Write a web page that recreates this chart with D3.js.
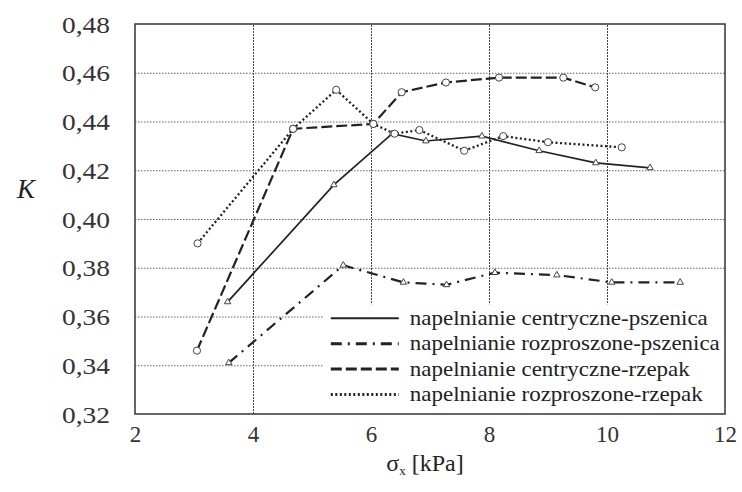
<!DOCTYPE html>
<html><head><meta charset="utf-8">
<script src="https://cdn.jsdelivr.net/npm/d3@7/dist/d3.min.js"></script>
<style>body{margin:0;background:#fff}svg{display:block}svg text{font-family:"Liberation Serif","Times New Roman",Times,serif}</style>
</head><body>
<svg id="c" width="742" height="492"></svg>
<script>
// ---- data ----
const xTicks = [2, 4, 6, 8, 10, 12];
const yTicks = [0.32, 0.34, 0.36, 0.38, 0.40, 0.42, 0.44, 0.46, 0.48];
const seriesNames = ["napelnianie centryczne-pszenica", "napelnianie rozproszone-pszenica", "napelnianie centryczne-rzepak", "napelnianie rozproszone-rzepak"];
const xPszCen = [3.57, 5.37, 6.36, 6.93, 7.88, 8.85, 9.81, 10.73];
const kPszCen = [0.366, 0.414, 0.435, 0.432, 0.434, 0.428, 0.423, 0.421];
const xPszRoz = [3.59, 5.53, 6.55, 7.28, 8.10, 9.15, 10.08, 11.24];
const kPszRoz = [0.341, 0.381, 0.374, 0.373, 0.378, 0.377, 0.374, 0.374];
const xRzeCen = [3.05, 4.68, 6.04, 6.52, 7.27, 8.17, 9.26, 9.80];
const kRzeCen = [0.346, 0.437, 0.439, 0.452, 0.456, 0.458, 0.458, 0.454];
const xRzeRoz = [3.06, 4.68, 5.41, 6.04, 6.40, 6.82, 7.58, 8.24, 9.00, 10.25];
const kRzeRoz = [0.390, 0.437, 0.453, 0.439, 0.435, 0.4365, 0.428, 0.434, 0.4315, 0.4294];

const series = [
  {name: seriesNames[0], xs: xPszCen, ks: kPszCen, dash: null, w: 1.7, marker: "tri"},
  {name: seriesNames[1], xs: xPszRoz, ks: kPszRoz, dash: "11,6,2,6", w: 2.2, marker: "tri"},
  {name: seriesNames[2], xs: xRzeCen, ks: kRzeCen, dash: "11,4", w: 2.2, marker: "circ"},
  {name: seriesNames[3], xs: xRzeRoz, ks: kRzeRoz, dash: "2,2.5", w: 2.3, marker: "circ"}
];

// ---- layout ----
const svg = d3.select("#c");
const m = {l: 135, t: 24, r: 17, b: 78};
const W = 742 - m.l - m.r, H = 492 - m.t - m.b;
const x = d3.scaleLinear().domain([2, 12]).range([0, W]);
const y = d3.scaleLinear().domain([0.32, 0.48]).range([H, 0]);
const g = svg.append("g").attr("transform", `translate(${m.l},${m.t})`);
const ink = "#222";

// grid
const gx = g.append("g").attr("transform", `translate(0,${H})`)
  .call(d3.axisBottom(x).tickValues(xTicks.slice(1, -1)).tickSize(-H).tickFormat(""));
gx.select(".domain").remove();
gx.selectAll("line").attr("stroke", "#444").attr("stroke-width", 1).attr("stroke-dasharray", "2,1");
const gy = g.append("g")
  .call(d3.axisLeft(y).tickValues(yTicks.slice(1, -1)).tickSize(-W).tickFormat(""));
gy.select(".domain").remove();
gy.selectAll("line").attr("stroke", "#666").attr("stroke-width", 1).attr("stroke-dasharray", "1.5,1.5");

// lines & markers
const line = d3.line().x(d => x(d[0])).y(d => y(d[1]));
series.forEach(s => {
  const pts = s.xs.map((v, i) => [v, s.ks[i]]);
  g.append("path").datum(pts).attr("d", line).attr("fill", "none")
    .attr("stroke", ink).attr("stroke-width", s.w)
    .attr("stroke-dasharray", s.dash);
  if (s.marker === "circ") {
    g.selectAll(null).data(pts).enter().append("circle")
      .attr("cx", d => x(d[0])).attr("cy", d => y(d[1])).attr("r", 3.6)
      .attr("fill", "#fff").attr("stroke", "#444").attr("stroke-width", 1);
  } else {
    g.selectAll(null).data(pts).enter().append("path")
      .attr("d", d3.symbol(d3.symbolTriangle, 18))
      .attr("transform", d => `translate(${x(d[0])},${y(d[1])})`)
      .attr("fill", "#fff").attr("stroke", "#444").attr("stroke-width", 1);
  }
});

// legend
const lg = g.append("g");
const lTop = y(0.365);
lg.append("rect").attr("x", x(5.2)).attr("y", lTop).attr("width", W - x(5.2)).attr("height", H - lTop).attr("fill", "#fff");
const lx0 = x(5.2) + 7, lx1 = lx0 + 68;
const textW = [298, 310, 280, 293];
series.forEach((s, i) => {
  const yy = lTop + 14 + i * 25.4;
  lg.append("line").attr("x1", lx0).attr("x2", lx1).attr("y1", yy).attr("y2", yy)
    .attr("stroke", ink).attr("stroke-width", i === 0 ? 2 : 3).attr("stroke-dasharray", s.dash);
  lg.append("text").attr("x", lx1 + 11).attr("y", yy + 6.5).text(s.name)
    .attr("font-size", 21).attr("fill", "#222")
    .attr("textLength", textW[i]).attr("lengthAdjust", "spacingAndGlyphs");
});

// frame
g.append("rect").attr("width", W).attr("height", H).attr("fill", "none").attr("stroke", "#333").attr("stroke-width", 1.5);

// tick labels
const fmt = d => d3.format(".2f")(d).replace(".", ",");
const ax = g.append("g").call(d3.axisLeft(y).tickValues(yTicks).tickSize(0).tickPadding(25).tickFormat(fmt));
ax.select(".domain").remove();
ax.selectAll("text").attr("font-size", 23).attr("fill", "#333")
  .attr("textLength", 48).attr("lengthAdjust", "spacingAndGlyphs").attr("dy", "0.35em");
const bx = g.append("g").attr("transform", `translate(0,${H})`)
  .call(d3.axisBottom(x).tickValues(xTicks).tickSize(0).tickPadding(12).tickFormat(d3.format("d")));
bx.select(".domain").remove();
bx.selectAll("text").attr("font-size", 23).attr("fill", "#333");

// axis titles
svg.append("text").attr("x", 26).attr("y", 198).attr("text-anchor", "middle")
  .attr("font-style", "italic").attr("font-size", 27).attr("fill", "#222").text("K");
const xt = svg.append("text").attr("x", 425).attr("y", 471).attr("text-anchor", "middle")
  .attr("font-size", 24).attr("fill", "#222");
xt.append("tspan").text("σ");
xt.append("tspan").attr("font-size", 13).attr("dy", 4).text("x");
xt.append("tspan").attr("dy", -4).text(" [kPa]");
</script>
</body></html>
